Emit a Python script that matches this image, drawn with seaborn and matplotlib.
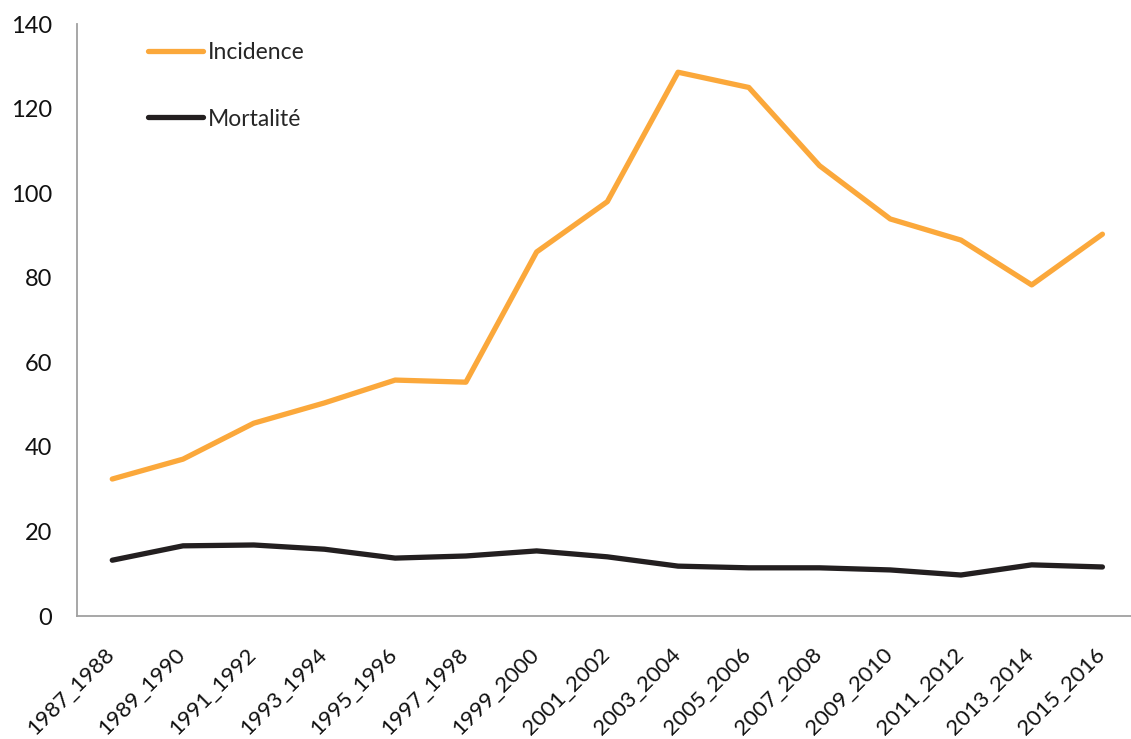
import matplotlib
matplotlib.use("Agg")
import matplotlib.pyplot as plt
import matplotlib.transforms as mtransforms
import seaborn as sns
import pandas as pd
import numpy as np
from matplotlib.ticker import FixedLocator, NullFormatter

periods = ["1987_1988", "1989_1990", "1991_1992", "1993_1994", "1995_1996",
           "1997_1998", "1999_2000", "2001_2002", "2003_2004", "2005_2006",
           "2007_2008", "2009_2010", "2011_2012", "2013_2014", "2015_2016"]
incidence = [32.4, 37.1, 45.6, 50.4, 55.8, 55.3, 86.1, 98.0, 128.6, 125.0,
             106.5, 93.9, 88.9, 78.3, 90.3]
mortalite = [13.2, 16.6, 16.8, 15.8, 13.7, 14.2, 15.4, 14.0, 11.8, 11.4,
             11.4, 10.9, 9.7, 12.1, 11.6]
series_names = ["Incidence", "Mortalité"]
colors = ["#FBA83B", "#231F20"]

sns.set_theme(style="white")
plt.rcParams['font.family'] = ['Lato', 'DejaVu Sans']

df = pd.DataFrame({
    "periode": periods * 2,
    "pos": list(range(len(periods))) * 2,
    "valeur": incidence + mortalite,
    "serie": [series_names[0]] * len(periods) + [series_names[1]] * len(periods),
})

fig = plt.figure(figsize=(11.31, 7.39), dpi=100)
ax = fig.add_axes([0.068, 0.1664, 0.938, 0.8011])

sns.lineplot(data=df, x="pos", y="valeur", hue="serie", palette=colors,
             linewidth=3.8, ax=ax, legend=True)

n = len(periods)
ax.set_xlim(-0.5, n - 0.5)
ax.set_ylim(0, 140)
ax.set_yticks(range(0, 141, 20))
ax.xaxis.set_major_locator(FixedLocator(np.arange(-0.5, n, 1.0)))
ax.xaxis.set_major_formatter(NullFormatter())
ax.xaxis.set_minor_locator(FixedLocator(np.arange(n)))
ax.set_xticklabels(periods, minor=True)
ax.tick_params(axis="x", which="minor", length=0, pad=20, labelsize=16,
               labelcolor="#111111")
ax.tick_params(axis="x", which="major", length=8, width=1.3, color="#A0A0A0", direction="out")
ax.tick_params(axis="y", length=7, width=1.3, color="#A0A0A0", direction="out",
               labelsize=17, labelcolor="#111111", pad=11)
offset = mtransforms.ScaledTranslation(-8 / 100, 0, fig.dpi_scale_trans)
for lab in ax.get_xticklabels(minor=True):
    lab.set_rotation(45)
    lab.set_ha("right")
    lab.set_rotation_mode("anchor")
    lab.set_transform(lab.get_transform() + offset)
ax.set_xlabel("")
ax.set_ylabel("")

for s in ["top", "right"]:
    ax.spines[s].set_visible(False)
for s in ["left", "bottom"]:
    ax.spines[s].set_color("#A0A0A0")
    ax.spines[s].set_linewidth(1.3)

leg = ax.legend(loc="upper left", bbox_to_anchor=(0.048, 1.005), frameon=False,
                handlelength=2.4, handletextpad=0.2, labelspacing=2.0,
                fontsize=16.5)
for line in leg.get_lines():
    line.set_linewidth(3.8)

fig.savefig("out.png", dpi=100)
